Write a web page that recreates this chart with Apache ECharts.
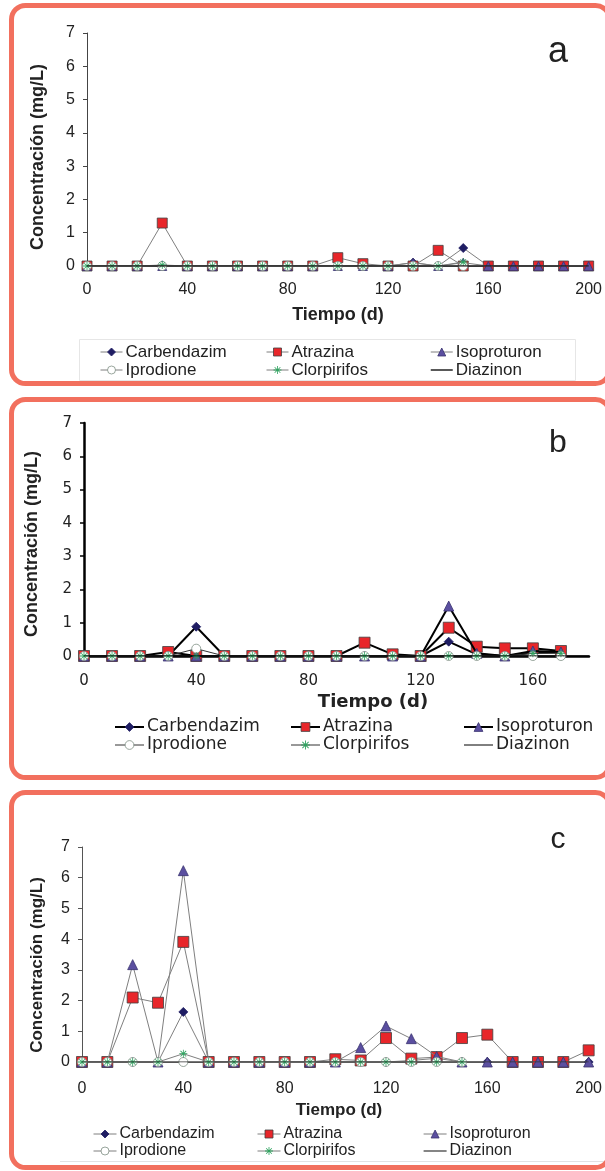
<!DOCTYPE html>
<html>
<head>
<meta charset="utf-8">
<script src="https://cdn.jsdelivr.net/npm/echarts@6/dist/echarts.min.js"></script>
<style>
  html, body { margin: 0; padding: 0; background: #fff; overflow: hidden; }
  #chart { width: 605px; height: 1171px; }
</style>
</head>
<body>
<div id="chart"></div>
<script>
// sampling days (d)
const daysA = [0, 10, 20, 30, 40, 50, 60, 70, 80, 90, 100, 110, 120, 130, 140, 150, 160, 170, 180, 190, 200];
const daysB = [0, 10, 20, 30, 40, 50, 60, 70, 80, 90, 100, 110, 120, 130, 140, 150, 160, 170, 180];
const daysC = [0, 10, 20, 30, 40, 50, 60, 70, 80, 90, 100, 110, 120, 130, 140, 150, 160, 170, 180, 190, 200];

const names = ['Carbendazim', 'Atrazina', 'Isoproturon', 'Iprodione', 'Clorpirifos', 'Diazinon'];
const xTicks = [0, 40, 80, 120, 160, 200];
const yTicks = [0, 1, 2, 3, 4, 5, 6, 7];

// panel a  (mg/L)
const carbA = [0, 0, 0, 0.02, 0, 0, 0, 0, 0, 0, 0, 0.02, 0, 0.1, 0, 0.54, 0, 0, 0];
const atraA = [0, 0, 0, 1.29, 0, 0, 0, 0, 0, 0, 0.25, 0.07, 0, 0, 0.47, 0, 0, 0, 0, 0, 0];
const isoA  = [0, 0, 0, 0, 0, 0, 0, 0, 0, 0, 0, 0, 0, 0.1, 0, 0.1, 0, 0, 0, 0, 0];
const iproA = [0, 0, 0, 0, 0, 0, 0, 0, 0, 0, 0, 0, 0, 0, 0, 0];
const clorA = [0, 0, 0, 0.03, 0, 0, 0, 0, 0, 0, 0, 0, 0, 0, 0, 0.12];
const diazA = [0, 0, 0, 0, 0, 0, 0, 0, 0, 0, 0, 0, 0, 0, 0, 0, 0, 0, 0, 0, 0];

// panel b
const carbB = [0, 0, 0, 0, 0.88, 0, 0, 0, 0, 0, 0, 0, 0, 0.43, 0.05, 0, 0.1, 0.12];
const atraB = [0, 0, 0, 0.12, 0, 0, 0, 0, 0, 0, 0.4, 0.05, 0, 0.85, 0.28, 0.23, 0.23, 0.15];
const isoB  = [0, 0, 0, 0, 0, 0, 0, 0, 0, 0, 0, 0, 0, 1.5, 0.08, 0, 0.15, 0.12];
const iproB = [0, 0, 0, 0, 0.22, 0, 0, 0, 0, 0, 0, 0, 0, 0, 0, 0, 0, 0];
const clorB = [0, 0, 0, 0, 0, 0, 0, 0, 0, 0, 0, 0, 0, 0, 0, 0, 0.08, 0.08];
const diazB = [0, 0, 0, 0, 0, 0, 0, 0, 0, 0, 0, 0, 0, 0, 0, 0, 0, 0, 0];

// panel c
const carbC = [0, 0, 0, 0, 1.63, 0, 0, 0, 0, 0, 0, 0, 0, 0.05, 0.12, 0, 0, 0, 0, 0, 0];
const atraC = [0, 0, 2.1, 1.93, 3.91, 0, 0, 0, 0, 0, 0.09, 0.05, 0.78, 0.11, 0.16, 0.78, 0.89, 0, 0, 0, 0.38];
const isoC  = [0, 0, 3.17, 0, 6.23, 0, 0, 0, 0, 0, 0, 0.47, 1.17, 0.76, 0.18, 0, 0, 0, 0, 0, 0];
const iproC = [0, 0, 0, 0, 0, 0, 0, 0, 0, 0, 0, 0, 0, 0, 0, 0];
const clorC = [0, 0, 0, 0, 0.27, 0, 0, 0, 0, 0, 0, 0, 0, 0, 0, 0];
const diazC = [0, 0, 0, 0, 0, 0, 0, 0, 0, 0, 0, 0, 0, 0, 0, 0, 0, 0, 0, 0, 0];

const STAR = 'path://M9,0h2v20h-2z M0,9h20v2h-20z M2.2,3.6l1.4,-1.4l14.2,14.2l-1.4,1.4z M3.6,17.8l-1.4,-1.4l14.2,-14.2l1.4,1.4z';
const BORDER = '#f2705e';

const marks = [
  { symbol: 'diamond', color: '#1f1d63', border: '#1f1d63' },
  { symbol: 'rect', color: '#e8262a', border: '#404040' },
  { symbol: 'triangle', color: '#5b4fa0', border: '#3a3470' },
  { symbol: 'circle', color: '#ffffff', border: '#7f8f84' },
  { symbol: STAR, color: '#2ea35f', border: '#2ea35f' },
  { symbol: 'none', color: '#222', border: '#222' }
];

const panels = [
  {
    days: daysA, vals: [carbA, atraA, isoA, iproA, clorA, diazA],
    box: [11.5, 5.5, 598, 378], grid: { left: 87, top: 33, width: 503, height: 233 }, xMax: 200,
    font: 'Liberation Sans', tick: 16, legFont: 17, xMargin: 16,
    axisColor: '#444', axisW: 1, lineColors: ['#7f7f7f', '#7f7f7f', '#7f7f7f', '#7f7f7f', '#7f7f7f', '#222'],
    lineW: [1, 1, 1, 1, 1, 1.5], sizes: [9, 10, 9, 9, 8],
    letter: ['a', 558, 52, 36], yTitle: [38, 157, 18, 'Liberation Sans'], xTitle: [338, 315, 18, 'Liberation Sans'],
    legCols: [100, 266, 430], legRow: 352, legW: 22, legH: 10
  },
  {
    days: daysB, vals: [carbB, atraB, isoB, iproB, clorB, diazB],
    box: [11.5, 399.5, 598, 378], grid: { left: 84, top: 423, width: 505, height: 233 }, xMax: 180,
    font: 'DejaVu Sans', tick: 15, legFont: 17, xMargin: 18,
    axisColor: '#000', axisW: 2.5, lineColors: ['#000', '#000', '#000', '#333', '#333', '#000'],
    lineW: [2, 2, 2, 1, 1, 1], sizes: [9, 11, 10, 9, 8],
    letter: ['b', 558, 443, 32], yTitle: [32, 544, 18, 'Liberation Sans'], xTitle: [373, 702, 18, 'DejaVu Sans'],
    legCols: [114, 290, 463], legRow: 727, legW: 29, legH: 11
  },
  {
    days: daysC, vals: [carbC, atraC, isoC, iproC, clorC, diazC],
    box: [11.5, 792.5, 598, 375], grid: { left: 82, top: 847, width: 509, height: 215 }, xMax: 200,
    font: 'Liberation Sans', tick: 16, legFont: 16, xMargin: 19,
    axisColor: '#555', axisW: 1, lineColors: ['#7f7f7f', '#7f7f7f', '#7f7f7f', '#7f7f7f', '#7f7f7f', '#333'],
    lineW: [1, 1, 1, 1, 1, 1.2], sizes: [9, 11, 10, 9, 8],
    letter: ['c', 558, 840, 30], yTitle: [37, 965, 17, 'Liberation Sans'], xTitle: [339, 1110, 17, 'Liberation Sans'],
    legCols: [93, 257, 423], legRow: 1134, legW: 23, legH: 10
  }
];

const grid = [], xAxis = [], yAxis = [], series = [], legend = [], graphic = [];

panels.forEach((p, pi) => {
  grid.push(Object.assign({ containLabel: false }, p.grid));
  xAxis.push({
    type: 'value', gridIndex: pi, min: xTicks[0], max: p.xMax, interval: 40,
    axisLine: { show: true, onZero: false, lineStyle: { color: p.axisColor, width: p.axisW } },
    axisTick: { show: false }, splitLine: { show: false },
    axisLabel: { fontFamily: p.font, fontSize: p.tick, color: '#222', margin: p.xMargin, showMaxLabel: p.xMax === 200 }
  });
  yAxis.push({
    type: 'value', gridIndex: pi, min: yTicks[0], max: yTicks[yTicks.length - 1], interval: 1,
    axisLine: { show: true, lineStyle: { color: p.axisColor, width: p.axisW } },
    axisTick: { show: true, length: 4, lineStyle: { color: p.axisColor, width: Math.min(p.axisW, 1.5) } },
    splitLine: { show: false },
    axisLabel: { fontFamily: p.font, fontSize: p.tick, color: '#222', margin: 12 }
  });

  names.forEach((n, si) => {
    const m = marks[si];
    series.push({
      type: 'line', name: n, xAxisIndex: pi, yAxisIndex: pi,
      data: p.vals[si].map((v, i) => [p.days[i], v]),
      symbol: m.symbol, symbolSize: si < 5 ? p.sizes[si] : 0, showSymbol: si < 5,
      lineStyle: { color: p.lineColors[si], width: p.lineW[si] },
      itemStyle: { color: m.color, borderColor: m.border, borderWidth: si === 4 ? 0 : 0.8 },
      z: 2 + si, animation: false, silent: true
    });
  });

  for (let c = 0; c < 3; c++) {
    legend.push({
      orient: 'vertical', left: p.legCols[c], top: p.legRow - p.legFont / 2, padding: 0,
      itemWidth: p.legW, itemHeight: p.legH, itemGap: 1, selectedMode: false,
      textStyle: { fontFamily: p.font, fontSize: p.legFont, color: '#222', padding: [0, 0, 0, -2] },
      data: [c, c + 3].map(si => ({
        name: names[si],
        lineStyle: { color: p.lineColors[si], width: p.lineW[si] },
        itemStyle: si === 5
          ? { color: 'rgba(0,0,0,0)', borderColor: 'rgba(0,0,0,0)', borderWidth: 0 }
          : { color: marks[si].color, borderColor: marks[si].border, borderWidth: si === 4 ? 0 : 0.8 }
      }))
    });
  }

  const [bx, by, bw, bh] = p.box;
  graphic.push({
    type: 'rect', shape: { x: bx, y: by, width: bw, height: bh, r: 14 },
    style: { fill: 'none', stroke: BORDER, lineWidth: 5 }, z: 100
  });
  graphic.push({
    type: 'text', x: p.letter[1], y: p.letter[2],
    style: { text: p.letter[0], font: p.letter[3] + 'px "Liberation Sans"', fill: '#222', textAlign: 'center', textVerticalAlign: 'middle' }
  });
  graphic.push({
    type: 'text', x: p.yTitle[0], y: p.yTitle[1], rotation: Math.PI / 2,
    style: { text: 'Concentración (mg/L)', font: 'bold ' + p.yTitle[2] + 'px "' + p.yTitle[3] + '"', fill: '#222', textAlign: 'center', textVerticalAlign: 'middle' }
  });
  graphic.push({
    type: 'text', x: p.xTitle[0], y: p.xTitle[1],
    style: { text: 'Tiempo (d)', font: 'bold ' + p.xTitle[2] + 'px "' + p.xTitle[3] + '"', fill: '#222', textAlign: 'center', textVerticalAlign: 'middle' }
  });
});

// faint legend frames
graphic.push({ type: 'rect', shape: { x: 79.5, y: 339.5, width: 496, height: 41 }, style: { fill: 'none', stroke: '#e6e6e6', lineWidth: 1 }, z: 1 });
graphic.push({ type: 'line', shape: { x1: 60, y1: 1161.5, x2: 605, y2: 1161.5 }, style: { stroke: '#e2e2e2', lineWidth: 1 }, z: 1 });

const chart = echarts.init(document.getElementById('chart'), null, { renderer: 'canvas' });
chart.setOption({
  backgroundColor: '#fff',
  animation: false,
  grid, xAxis, yAxis, series, legend, graphic
});
</script>
</body>
</html>
